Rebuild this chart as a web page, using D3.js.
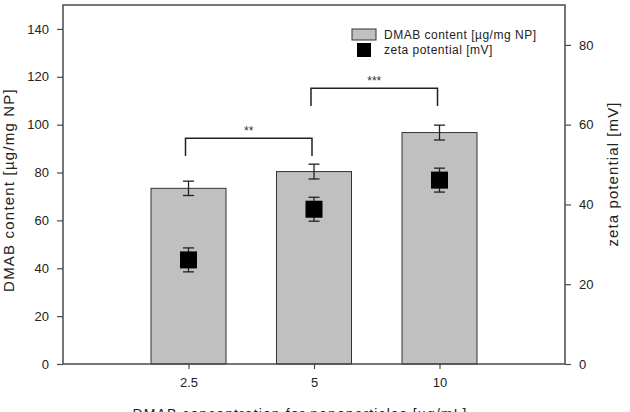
<!DOCTYPE html>
<html>
<head>
<meta charset="utf-8">
<script src="https://cdn.jsdelivr.net/npm/d3@7"></script>
<style>
  body { margin: 0; background: #fff; }
  svg { display: block; font-family: "Liberation Sans", Arial, sans-serif; }
</style>
</head>
<body>
<svg id="chart" width="630" height="412"></svg>
<script>
// data
const concentrations = ['2.5', '5', '10'];
const dmabContent = [73.4, 80.4, 96.7];
const dmabError = [3.0, 3.1, 3.1];
const zetaPotential = [26.1, 38.8, 46.1];
const zetaError = [3.0, 3.0, 3.0];
const leftTicks = [0, 20, 40, 60, 80, 100, 120, 140];
const rightTicks = [0, 20, 40, 60, 80];
// significance brackets: from / to category index, top and leg-end in left-axis units
const brackets = [
  { from: 0, to: 1, top: 94.3, leg: 86.9, label: '**' },
  { from: 1, to: 2, top: 115.2, leg: 107.8, label: '***' }
];

const svg = d3.select('#chart');
const mLeft = 63, mRight = 565, mTop = 5, mBottom = 364;
const axisColor = '#4a4a4a';

const x = d3.scaleLinear().domain([0, 4]).range([mLeft, mRight]);
const yL = d3.scaleLinear().domain([0, 150]).range([mBottom, mTop]);
const yR = d3.scaleLinear().domain([0, 90]).range([mBottom, mTop]);
const xPos = i => x(i + 1);
const barW = 75;

svg.append('rect').attr('width', 630).attr('height', 412).attr('fill', '#fff');

// bars
svg.append('g').selectAll('rect')
  .data(dmabContent)
  .join('rect')
    .attr('x', (d, i) => xPos(i) - barW / 2)
    .attr('y', d => yL(d))
    .attr('width', barW)
    .attr('height', d => yL(0) - yL(d))
    .attr('fill', '#c0c0c0')
    .attr('stroke', '#333')
    .attr('stroke-width', 1);

function errorBars(g, vals, errs, y, cap) {
  const e = g.append('g').attr('stroke', '#222').attr('stroke-width', 1.3);
  vals.forEach((v, i) => {
    const cx = xPos(i);
    e.append('line').attr('x1', cx).attr('x2', cx).attr('y1', y(v - errs[i])).attr('y2', y(v + errs[i]));
    [v - errs[i], v + errs[i]].forEach(t => {
      e.append('line').attr('x1', cx - cap / 2).attr('x2', cx + cap / 2).attr('y1', y(t)).attr('y2', y(t));
    });
  });
}
errorBars(svg, dmabContent, dmabError, yL, 11);
errorBars(svg, zetaPotential, zetaError, yR, 11);

// zeta squares
const sq = 17;
svg.append('g').selectAll('rect')
  .data(zetaPotential)
  .join('rect')
    .attr('x', (d, i) => xPos(i) - sq / 2)
    .attr('y', d => yR(d) - sq / 2)
    .attr('width', sq)
    .attr('height', sq)
    .attr('fill', '#000');

// brackets
const bg = svg.append('g');
brackets.forEach(b => {
  const x1 = xPos(b.from) - 3, x2 = xPos(b.to) - 2;
  bg.append('path')
    .attr('d', `M${x1},${yL(b.leg)}V${yL(b.top)}H${x2}V${yL(b.leg)}`)
    .attr('fill', 'none').attr('stroke', '#222').attr('stroke-width', 1.5);
  bg.append('text')
    .attr('x', (x1 + x2) / 2).attr('y', yL(b.top) - 3)
    .attr('text-anchor', 'middle').attr('font-size', 12).attr('fill', '#333')
    .text(b.label);
});

// frame
svg.append('path')
  .attr('d', `M${mLeft},${mTop}H${mRight}V${mBottom}H${mLeft}Z`)
  .attr('fill', 'none').attr('stroke', axisColor).attr('stroke-width', 1.5);

// axes
const styleAxis = g => {
  g.select('.domain').remove();
  g.selectAll('.tick line').attr('stroke', axisColor).attr('stroke-width', 1.2);
  g.selectAll('.tick text').attr('fill', '#222').attr('font-size', 13)
    .attr('font-family', '"Liberation Sans", Arial, sans-serif');
};
svg.append('g').attr('transform', `translate(${mLeft},0)`)
  .call(d3.axisLeft(yL).tickValues(leftTicks).tickSize(6).tickPadding(8))
  .call(styleAxis);
svg.append('g').attr('transform', `translate(${mRight},0)`)
  .call(d3.axisRight(yR).tickValues(rightTicks).tickSize(6).tickPadding(8))
  .call(styleAxis);
svg.append('g').attr('transform', `translate(0,${mBottom})`)
  .call(d3.axisBottom(x).tickValues([1, 2, 3]).tickFormat(d => concentrations[d - 1]).tickSize(5).tickPadding(9))
  .call(styleAxis);

// axis titles
svg.append('text')
  .attr('transform', 'translate(14,190) rotate(-90)')
  .attr('text-anchor', 'middle').attr('font-size', 15).attr('letter-spacing', 1.2).attr('fill', '#222')
  .text('DMAB content [µg/mg NP]');
svg.append('text')
  .attr('transform', 'translate(618,174) rotate(-90)')
  .attr('text-anchor', 'middle').attr('font-size', 15).attr('letter-spacing', 1.1).attr('fill', '#222')
  .text('zeta potential [mV]');
// the reference clips this title at the bottom edge
svg.append('text')
  .attr('x', 300).attr('y', 419)
  .attr('text-anchor', 'middle').attr('font-size', 14).attr('letter-spacing', 1.1).attr('fill', '#222')
  .text('DMAB concentration for nanoparticles [µg/mL]');

// legend
const lg = svg.append('g').attr('font-size', 12).attr('letter-spacing', 0.5).attr('fill', '#222');
lg.append('rect').attr('x', 352).attr('y', 29).attr('width', 24).attr('height', 11)
  .attr('fill', '#c0c0c0').attr('stroke', '#333');
lg.append('rect').attr('x', 357).attr('y', 43).attr('width', 14).attr('height', 14).attr('fill', '#000');
lg.append('text').attr('x', 384).attr('y', 39).text('DMAB content [µg/mg NP]');
lg.append('text').attr('x', 384).attr('y', 54).text('zeta potential [mV]');
</script>
</body>
</html>
